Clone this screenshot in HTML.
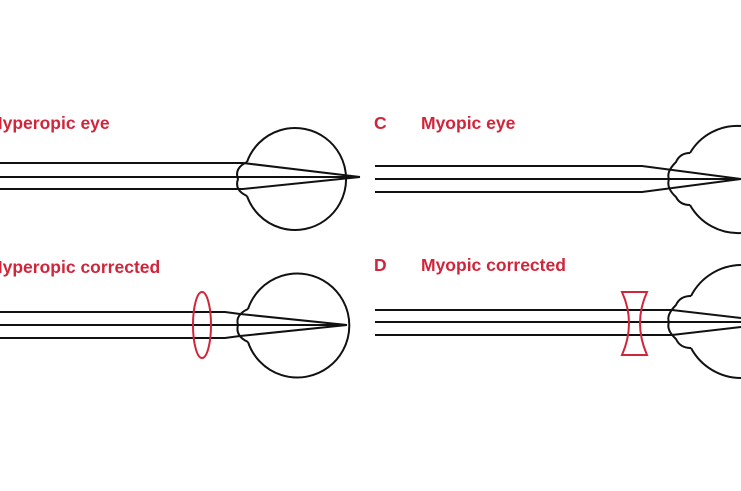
<!DOCTYPE html>
<html><head><style>
html,body{margin:0;padding:0;background:#fff;overflow:hidden}
</style></head><body>
<svg width="741" height="486" viewBox="0 0 741 486" xmlns="http://www.w3.org/2000/svg">
<g font-family="Liberation Sans, sans-serif" font-weight="bold" font-size="17.5" fill="#d0253a">
<text x="-10" y="129">Hyperopic eye</text>
<text x="-10" y="273">Hyperopic corrected</text>
<text x="374" y="129">C</text>
<text x="421" y="129">Myopic eye</text>
<text x="374" y="271">D</text>
<text x="421" y="271">Myopic corrected</text>
</g>
<g fill="none" stroke="#111" stroke-width="2">
<path d="M247,162 A51,51 0 1 1 247,196"/>
<path d="M247,162 Q234,168 238,179 Q234,190 247,196"/>
<path d="M0,163 L243,163 L360,177 M0,177 L360,177 M0,189 L243,189 L360,177"/>
<path d="M248,309 A52,52 0 1 1 248,342"/>
<path d="M248,309 Q235,315 238,325 Q235,336 248,342"/>
<path d="M0,312 L225,312 L240,314 L347,325 M0,325 L347,325 M0,338 L225,338 L240,336 L347,325"/>
<path d="M690,153 A55,55 0 0 1 741,126"/>
<path d="M690,205 A55,55 0 0 0 741,233"/>
<path d="M690,153 Q680,153 676,162 Q666,172 669,179 Q666,188 676,197 Q680,205 690,205"/>
<path d="M375,166 L642,166 L741,179 M375,179 L741,179 M375,192 L642,192 L741,179"/>
<path d="M691,296 A57,57 0 0 1 741,265"/>
<path d="M691,348 A57,57 0 0 0 741,378"/>
<path d="M691,296 Q680,296 676,305 Q666,315 669,322 Q666,330 676,339 Q680,348 691,348"/>
<path d="M375,310 L672,310 L741,318 M375,322 L741,322 M375,335 L672,335 L741,327"/>
</g>
<ellipse cx="202" cy="325" rx="9" ry="33" fill="none" stroke="#d0253a" stroke-width="2"/>
<path d="M622,292 L647,292 Q633,323 647,355 L622,355 Q636,323 622,292 Z" fill="none" stroke="#d0253a" stroke-width="2"/>
</svg>
</body></html>
